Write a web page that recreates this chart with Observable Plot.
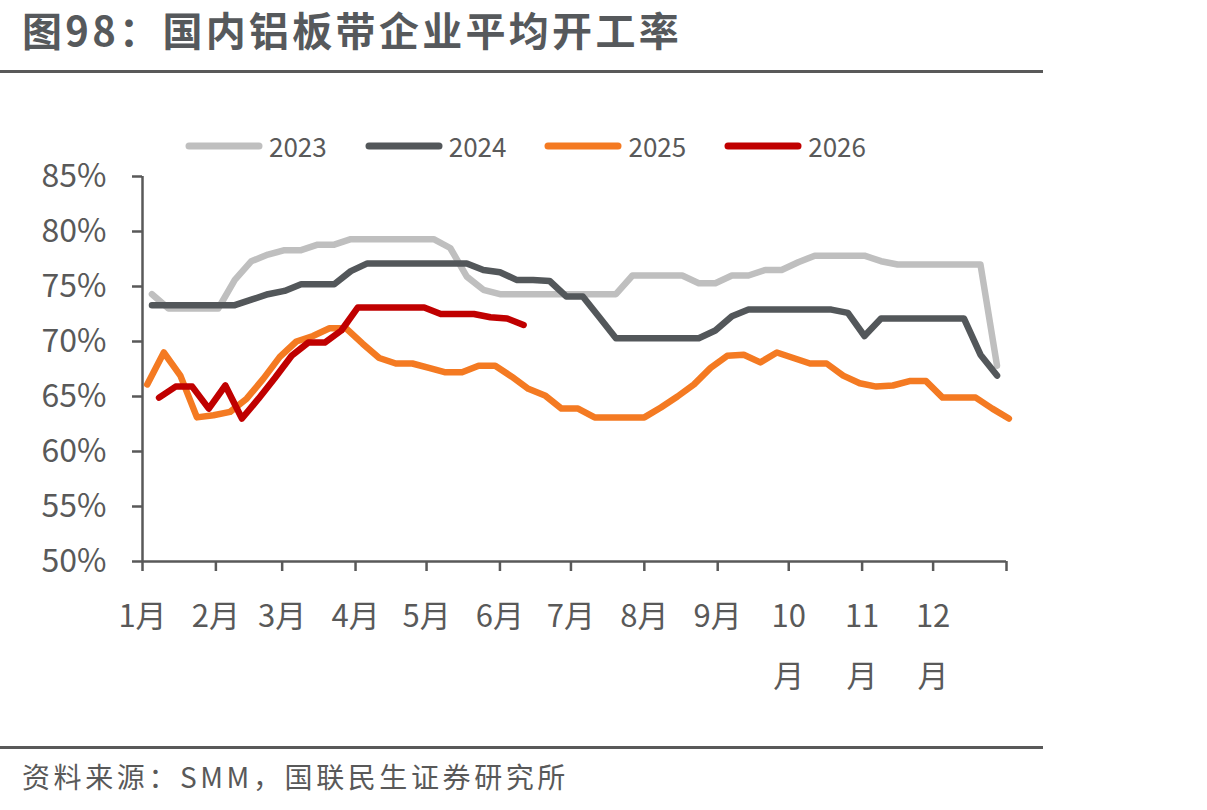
<!DOCTYPE html>
<html>
<head>
<meta charset="utf-8">
<script src="https://cdn.jsdelivr.net/npm/d3@7"></script>
<script src="https://cdn.jsdelivr.net/npm/@observablehq/plot@0.6"></script>
<style>
  body { margin: 0; background: #fff; }
  #wrap { position: relative; width: 1207px; height: 810px; overflow: hidden;
          font-family: "Noto Sans CJK SC", "Noto Sans", sans-serif; color: #595959; }
  #title { position: absolute; left: 22px; top: 6px; font-size: 40px; font-weight: 700;
           letter-spacing: 3.3px; line-height: 46px; color: #56595c; white-space: nowrap; }
  .rule { position: absolute; left: 0; width: 1043px; height: 3px; background: #595959; }
  #chart { position: absolute; left: 0; top: 0; }
  #legend { position: absolute; top: 128px; left: 185px; display: flex; align-items: center;
            font-size: 26px; line-height: 36px; color: #595959; }
  .item { display: flex; align-items: center; margin-right: 38px; }
  .item svg { margin-right: 6px; display: block; }
  #source { position: absolute; left: 22px; top: 757px; font-size: 28px; line-height: 38px;
            letter-spacing: 3.6px; color: #595959; white-space: nowrap; }
</style>
</head>
<body>
<div id="wrap">
  <div id="title">图98：国内铝板带企业平均开工率</div>
  <div class="rule" style="top:70px"></div>
  <div id="chart"></div>
  <div id="legend"></div>
  <div class="rule" style="top:746px"></div>
  <div id="source">资料来源：SMM，国联民生证券研究所</div>
</div>
<script>
// Weekly average operating rate (%) of domestic aluminium sheet & strip producers
const years = ["2023", "2024", "2025", "2026"];
const colors = ["#bfbfbf", "#53575a", "#f47a22", "#c00000"];
// day of year (0 = Jan 1) of each year's first weekly reading
const firstDay = [4, 4, 2, 7];

const rate2023 = [74.3, 73.0, 73.0, 73.0, 73.0, 75.6, 77.3, 77.9, 78.3, 78.3,
  78.8, 78.8, 79.3, 79.3, 79.3, 79.3, 79.3, 79.3, 78.5, 75.9,
  74.7, 74.3, 74.3, 74.3, 74.3, 74.3, 74.3, 74.3, 74.3, 76.0,
  76.0, 76.0, 76.0, 75.3, 75.3, 76.0, 76.0, 76.5, 76.5, 77.2,
  77.8, 77.8, 77.8, 77.8, 77.3, 77.0, 77.0, 77.0, 77.0, 77.0,
  77.0, 67.8];
const rate2024 = [73.3, 73.3, 73.3, 73.3, 73.3, 73.3, 73.8, 74.3, 74.6, 75.2,
  75.2, 75.2, 76.4, 77.1, 77.1, 77.1, 77.1, 77.1, 77.1, 77.1,
  76.5, 76.3, 75.6, 75.6, 75.5, 74.1, 74.1, 72.2, 70.3, 70.3,
  70.3, 70.3, 70.3, 70.3, 71.0, 72.3, 72.9, 72.9, 72.9, 72.9,
  72.9, 72.9, 72.6, 70.5, 72.1, 72.1, 72.1, 72.1, 72.1, 72.1,
  68.8, 66.9];
const rate2025 = [66.1, 69.0, 66.9, 63.1, 63.3, 63.6, 64.8, 66.6, 68.6, 70.0,
  70.5, 71.2, 71.2, 69.8, 68.5, 68.0, 68.0, 67.6, 67.2, 67.2,
  67.8, 67.8, 66.8, 65.7, 65.1, 63.9, 63.9, 63.1, 63.1, 63.1,
  63.1, 64.0, 65.0, 66.1, 67.6, 68.7, 68.8, 68.1, 69.0, 68.5,
  68.0, 68.0, 66.9, 66.2, 65.9, 66.0, 66.4, 66.4, 64.9, 64.9,
  64.9, 63.9, 63.0];
const rate2026 = [64.9, 65.9, 65.9, 63.9, 66.0, 63.0, 64.8, 66.7, 68.7, 69.9,
  69.9, 71.0, 73.1, 73.1, 73.1, 73.1, 73.1, 72.5, 72.5, 72.5,
  72.2, 72.1, 71.5];

// month boundaries on a 365-day axis, and their labels
const monthStart = [0, 31, 59, 90, 120, 151, 181, 212, 243, 273, 304, 334, 365];
const monthLabels = ["1月", "2月", "3月", "4月", "5月", "6月", "7月", "8月", "9月",
  "10\n月", "11\n月", "12\n月"];
const yTicks = [50, 55, 60, 65, 70, 75, 80, 85];

const series = [rate2023, rate2024, rate2025, rate2026];
const rows = series.flatMap((vals, k) =>
  vals.map((v, i) => ({year: years[k], day: firstDay[k] + 7 * i, value: v})));

const labelByDay = new Map(monthStart.map((d, i) => [d, monthLabels[i] ?? ""]));
const ink = "#595959";

const chart = Plot.plot({
  width: 1207,
  height: 720,
  marginLeft: 142,
  marginRight: 201,
  marginTop: 176,
  marginBottom: 159,
  style: {fontFamily: '"Noto Sans CJK SC", "Noto Sans", sans-serif', color: ink,
          background: "transparent", overflow: "visible"},
  x: {domain: [0, 365]},
  y: {domain: [50, 85]},
  color: {domain: years, range: colors},
  marks: [
    Plot.axisY({ticks: yTicks, tickSize: 10, tickPadding: 26, tickFormat: d => d + "%",
                fontSize: 32, strokeWidth: 2.5, color: ink, label: null}),
    Plot.axisX({ticks: monthStart, tickSize: 10, tickPadding: 13,
                tickFormat: d => labelByDay.get(d), fontSize: 31, lineHeight: 1.94,
                strokeWidth: 2.5, color: ink, label: null}),
    Plot.ruleX([0], {stroke: ink, strokeWidth: 2.5}),
    Plot.ruleY([50], {stroke: ink, strokeWidth: 2.5}),
    Plot.line(rows, {x: "day", y: "value", z: "year", stroke: "year", strokeWidth: 6.5,
                     strokeLinejoin: "round", strokeLinecap: "round"})
  ]
});
document.getElementById("chart").appendChild(chart);

// legend
const legend = document.getElementById("legend");
years.forEach((y, k) => {
  const item = document.createElement("div");
  item.className = "item";
  item.innerHTML = `<svg width="78" height="12"><line x1="4" x2="74" y1="6" y2="6" stroke="${colors[k]}" stroke-width="7" stroke-linecap="round"/></svg><span>${y}</span>`;
  legend.appendChild(item);
});
</script>
</body>
</html>
